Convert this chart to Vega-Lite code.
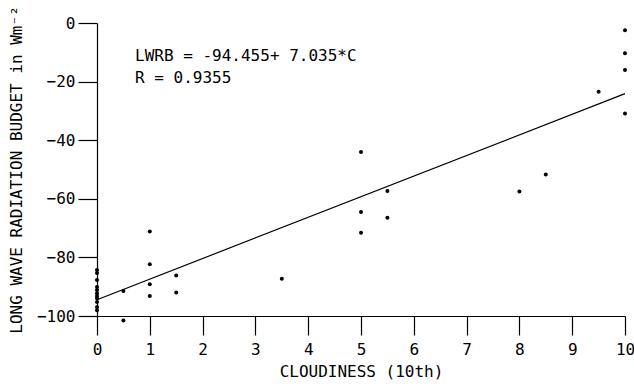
{
  "$schema": "https://vega.github.io/schema/vega-lite/v6.json",
  "width": 528,
  "height": 293,
  "autosize": "none",
  "padding": {"left": 97, "top": 23, "right": 9, "bottom": 68},
  "background": "white",
  "config": {
    "view": {"stroke": null},
    "font": "DejaVu Sans Mono",
    "axis": {
      "grid": false,
      "domainColor": "black",
      "tickColor": "black",
      "labelColor": "black",
      "titleColor": "black",
      "labelFont": "DejaVu Sans Mono",
      "titleFont": "DejaVu Sans Mono",
      "labelFontSize": 16,
      "titleFontSize": 16,
      "titleFontWeight": "normal",
      "tickSize": 19,
      "domainWidth": 1.2,
      "tickWidth": 1.2,
      "labelOverlap": false
    }
  },
  "datasets": {
    "obs": [
      {"C": 0, "LWRB": -84.3}, {"C": 0, "LWRB": -85.3}, {"C": 0, "LWRB": -87.7},
      {"C": 0, "LWRB": -90.1}, {"C": 0, "LWRB": -91.1}, {"C": 0, "LWRB": -92.2},
      {"C": 0, "LWRB": -93.2}, {"C": 0, "LWRB": -93.9}, {"C": 0, "LWRB": -95.2},
      {"C": 0, "LWRB": -96.9}, {"C": 0, "LWRB": -98.0},
      {"C": 0.5, "LWRB": -91.5}, {"C": 0.5, "LWRB": -101.5},
      {"C": 1, "LWRB": -71.2}, {"C": 1, "LWRB": -82.3}, {"C": 1, "LWRB": -89.2}, {"C": 1, "LWRB": -93.2},
      {"C": 1.5, "LWRB": -86.2}, {"C": 1.5, "LWRB": -92.0},
      {"C": 3.5, "LWRB": -87.3},
      {"C": 5, "LWRB": -44.0}, {"C": 5, "LWRB": -64.5}, {"C": 5, "LWRB": -71.6},
      {"C": 5.5, "LWRB": -57.3}, {"C": 5.5, "LWRB": -66.5},
      {"C": 8, "LWRB": -57.5}, {"C": 8.5, "LWRB": -51.7},
      {"C": 9.5, "LWRB": -23.5},
      {"C": 10, "LWRB": -2.5}, {"C": 10, "LWRB": -10.3}, {"C": 10, "LWRB": -16.0}, {"C": 10, "LWRB": -30.9}
    ],
    "fit": [
      {"C": 0, "LWRB": -94.455},
      {"C": 10, "LWRB": -24.105}
    ],
    "note": [
      {"C": 0.72, "LWRB": -12.8, "label": "LWRB = -94.455+ 7.035*C"},
      {"C": 0.72, "LWRB": -20.6, "label": "R = 0.9355"}
    ]
  },
  "layer": [
    {
      "data": {"name": "obs"},
      "mark": {"type": "circle", "color": "black", "opacity": 1, "size": 16},
      "encoding": {
        "x": {
          "field": "C", "type": "quantitative",
          "scale": {"domain": [0, 10], "nice": false, "zero": false},
          "axis": {"title": "CLOUDINESS (10th)", "values": [0,1,2,3,4,5,6,7,8,9,10], "labelPadding": 6, "titlePadding": 6, "labelFlush": false}
        },
        "y": {
          "field": "LWRB", "type": "quantitative",
          "scale": {"domain": [-100, 0], "nice": false, "zero": false, "clamp": false},
          "axis": {"title": "LONG WAVE RADIATION BUDGET in Wm⁻²", "values": [-100,-80,-60,-40,-20,0], "labelPadding": 3, "titlePadding": 12, "labelFlush": false}
        }
      }
    },
    {
      "data": {"name": "fit"},
      "mark": {"type": "line", "color": "black", "strokeWidth": 1.2},
      "encoding": {
        "x": {"field": "C", "type": "quantitative"},
        "y": {"field": "LWRB", "type": "quantitative"}
      }
    },
    {
      "data": {"name": "note"},
      "mark": {"type": "text", "align": "left", "baseline": "alphabetic", "fontSize": 16, "font": "DejaVu Sans Mono", "color": "black"},
      "encoding": {
        "x": {"field": "C", "type": "quantitative"},
        "y": {"field": "LWRB", "type": "quantitative"},
        "text": {"field": "label"}
      }
    }
  ]
}
